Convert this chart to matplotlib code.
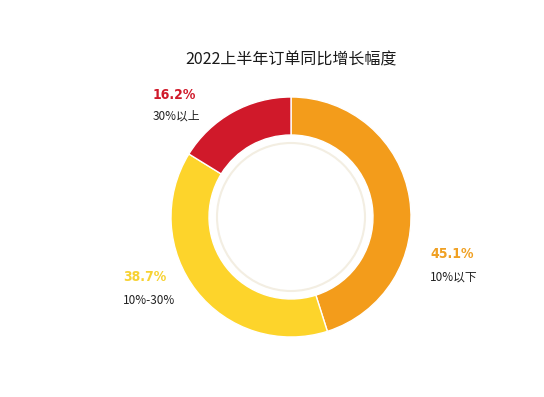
import matplotlib
matplotlib.use("Agg")
import matplotlib.pyplot as plt
from matplotlib.patches import Circle

plt.rcParams['font.family'] = ['Noto Sans CJK SC', 'DejaVu Sans']

title = "2022上半年订单同比增长幅度"
categories = ["10%以下", "10%-30%", "30%以上"]
values = [45.1, 38.7, 16.2]
value_labels = ["45.1%", "38.7%", "16.2%"]
colors = ["#F39C1B", "#FDD42B", "#D0192A"]
label_colors = ["#F0A022", "#F7D233", "#D0192A"]

H = 397
fig = plt.figure(figsize=(5.44, 3.97), dpi=100)
ax = fig.add_axes([0, 0, 1, 1])

cx, cy, R = 291, 217, 120
ax.pie(values, colors=colors, startangle=90, counterclock=False,
       center=(cx, H - cy), radius=R,
       wedgeprops=dict(width=R - 82, edgecolor='white', linewidth=1))
ax.add_patch(Circle((cx, H - cy), 74, fill=False, edgecolor='#F3EEE2', linewidth=1.5))

ax.set_xlim(0, 544)
ax.set_ylim(0, H)
ax.set_aspect('equal')
ax.axis('off')

ax.text(291, H - 60, title, ha='center', va='center', fontsize=11.5, color='#1a1a1a')

pos = [(430, 254, 277), (123, 277, 300), (153, 95, 116)]
for (x, y1, y2), vl, cat, lc in zip(pos, value_labels, categories, label_colors):
    ax.text(x, H - y1, vl, ha='left', va='center', fontsize=10, fontweight='bold',
            fontstretch='condensed', color=lc, family=['DejaVu Sans'])
    ax.text(x, H - y2, cat, ha='left', va='center', fontsize=8.5, color='#222222')

fig.savefig("out.png", dpi=100, facecolor='white')
